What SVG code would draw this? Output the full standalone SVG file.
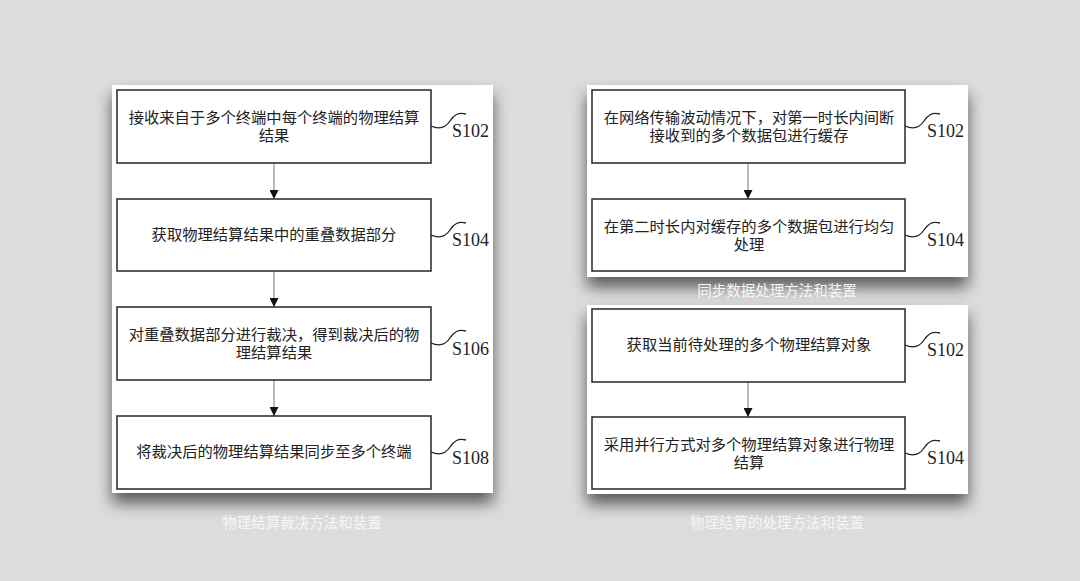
<svg xmlns="http://www.w3.org/2000/svg" width="1080" height="581" viewBox="0 0 1080 581">
<defs>
<filter id="sh" x="-10%" y="-10%" width="120%" height="130%">
<feGaussianBlur in="SourceAlpha" stdDeviation="8"/>
<feOffset dx="0" dy="10" result="b"/>
<feComponentTransfer in="b" result="c"><feFuncA type="linear" slope="0.6"/></feComponentTransfer>
<feMerge><feMergeNode in="c"/><feMergeNode in="SourceGraphic"/></feMerge>
</filter>
<marker id="ah" markerWidth="9" markerHeight="9" refX="9" refY="4.5" orient="auto" markerUnits="userSpaceOnUse">
<path d="M0,0 L9,4.5 L0,9 Z" fill="#111"/>
</marker>
<style>
.panel{fill:#fff;filter:url(#sh)}
.box{fill:#fff;stroke:#333;stroke-width:1.6}
.t{font-family:"Liberation Serif","Noto Sans CJK SC",serif;font-size:15.3px;fill:#222;text-anchor:middle}
.lbl{font-family:"Liberation Serif","Noto Sans CJK SC",serif;font-size:18px;fill:#222}
.sq{fill:none;stroke:#222;stroke-width:1.3}
.cap{font-family:"Noto Sans CJK SC",sans-serif;font-size:14.5px;fill:#f6f6f6;text-anchor:middle}
.con{stroke:#777;stroke-width:1;fill:none;marker-end:url(#ah)}
</style>
</defs>
<rect width="1080" height="581" fill="#dcdcdc"/>

<!-- panels -->
<rect class="panel" x="112" y="85" width="381" height="408"/>
<rect class="panel" x="587" y="85" width="381" height="192"/>
<rect class="panel" x="587" y="305" width="381" height="189"/>

<g id="connectors">
<line class="con" x1="274" y1="163" x2="274" y2="199"/>
<line class="con" x1="274" y1="271" x2="274" y2="307"/>
<line class="con" x1="274" y1="380" x2="274" y2="416"/>
<line class="con" x1="748" y1="163" x2="748" y2="199"/>
<line class="con" x1="748" y1="382" x2="748" y2="417"/>
</g>

<!-- left panel -->
<g id="L1">
<rect class="box" x="117" y="90" width="314" height="73"/>
<text class="t" x="274" y="123">接收来自于多个终端中每个终端的物理结算</text>
<text class="t" x="274" y="141">结果</text>
<path class="sq" d="M431,126 C440,130 446,127 450,121 C454,115 458,112 466,114"/>
<text class="lbl" x="452" y="137">S102</text>
</g>
<g id="L2">
<rect class="box" x="117" y="199" width="314" height="72"/>
<text class="t" x="274" y="240">获取物理结算结果中的重叠数据部分</text>
<path class="sq" d="M431,235 C440,239 446,236 450,230 C454,224 458,221 466,223"/>
<text class="lbl" x="452" y="246">S104</text>
</g>
<g id="L3">
<rect class="box" x="117" y="307" width="314" height="73"/>
<text class="t" x="274" y="340">对重叠数据部分进行裁决，得到裁决后的物</text>
<text class="t" x="274" y="358">理结算结果</text>
<path class="sq" d="M431,343 C440,347 446,344 450,338 C454,332 458,329 466,331"/>
<text class="lbl" x="452" y="355">S106</text>
</g>
<g id="L4">
<rect class="box" x="117" y="416" width="314" height="73"/>
<text class="t" x="274" y="457">将裁决后的物理结算结果同步至多个终端</text>
<path class="sq" d="M431,452 C440,456 446,453 450,447 C454,441 458,438 466,440"/>
<text class="lbl" x="452" y="464">S108</text>
</g>
<text id="cap1" class="cap" x="302" y="528">物理结算裁决方法和装置</text>

<!-- right top panel -->
<g id="R1">
<rect class="box" x="592" y="90" width="313" height="73"/>
<text class="t" x="749" y="123">在网络传输波动情况下，对第一时长内间断</text>
<text class="t" x="749" y="141">接收到的多个数据包进行缓存</text>
<path class="sq" d="M905,126 C914,130 920,127 924,121 C928,115 932,112 940,114"/>
<text class="lbl" x="927" y="137">S102</text>
</g>
<g id="R2">
<rect class="box" x="592" y="199" width="313" height="72"/>
<text class="t" x="749" y="232">在第二时长内对缓存的多个数据包进行均匀</text>
<text class="t" x="749" y="250">处理</text>
<path class="sq" d="M905,235 C914,239 920,236 924,230 C928,224 932,221 940,223"/>
<text class="lbl" x="927" y="246">S104</text>
</g>
<text id="cap2" class="cap" x="777" y="296">同步数据处理方法和装置</text>

<!-- right bottom panel -->
<g id="R3">
<rect class="box" x="592" y="309" width="313" height="73"/>
<text class="t" x="749" y="350">获取当前待处理的多个物理结算对象</text>
<path class="sq" d="M905,345 C914,349 920,346 924,340 C928,334 932,331 940,333"/>
<text class="lbl" x="927" y="356">S102</text>
</g>
<g id="R4">
<rect class="box" x="592" y="417" width="313" height="72"/>
<text class="t" x="749" y="450">采用并行方式对多个物理结算对象进行物理</text>
<text class="t" x="749" y="468">结算</text>
<path class="sq" d="M905,453 C914,457 920,454 924,448 C928,442 932,439 940,441"/>
<text class="lbl" x="927" y="464">S104</text>
</g>
<text id="cap3" class="cap" x="777" y="528">物理结算的处理方法和装置</text>
</svg>
